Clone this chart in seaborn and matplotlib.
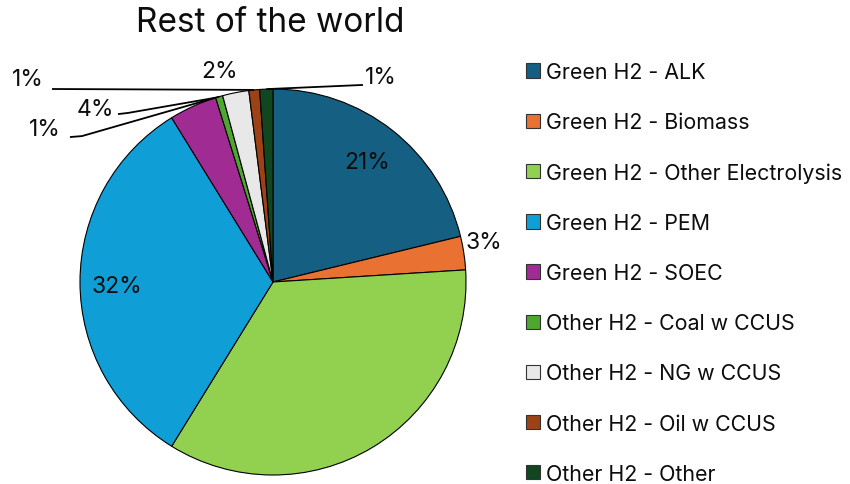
import numpy as np
import matplotlib
matplotlib.use("Agg")
import matplotlib.pyplot as plt
from matplotlib.patches import Patch
import seaborn as sns

sns.set_theme(style="white")
plt.rcParams["font.family"] = ["Inter", "DejaVu Sans"]

# Hydrogen production mix (share of total, %)
categories = [
    "Green H2 - ALK",
    "Green H2 - Biomass",
    "Green H2 - Other Electrolysis",
    "Green H2 - PEM",
    "Green H2 - SOEC",
    "Other H2 - Coal w CCUS",
    "Other H2 - NG w CCUS",
    "Other H2 - Oil w CCUS",
    "Other H2 - Other",
]
shares = [21.2, 2.8, 34.8, 32.4, 4.0, 0.6, 2.2, 0.9, 1.1]
colors = ["#156082", "#E97132", "#92D050", "#0F9ED5", "#A02B93",
          "#4EA72E", "#E8E8E8", "#9C4216", "#12461E"]
show_label = [True, True, False, True, True, True, True, True, True]

# label placement (data units, pie radius = 1) and optional leader bends
label_pos = [(0.487, 0.622), (1.093, 0.207), None, (-0.808, -0.021),
             (-0.922, 0.896), (-1.181, 0.793), (-0.275, 1.093),
             (-1.269, 1.052), (0.560, 1.062)]
leader_bend = [None, None, None, None,
               [(-0.751, 0.876), (-0.803, 0.870)],
               [(-0.990, 0.756), (-1.052, 0.751)],
               None,
               [(-1.145, 1.000)],
               [(0.466, 1.021)]]

text_color = "#0d0d0d"

fig = plt.figure(figsize=(8.5, 4.85), dpi=100)
ax = fig.add_axes([80 / 850, 9 / 485, 386 / 850, 386 / 485])

wedges, _ = ax.pie(shares, colors=colors, startangle=90, counterclock=False,
                   radius=1.0,
                   wedgeprops=dict(edgecolor="black", linewidth=0.8))
ax.set_xlim(-1, 1)
ax.set_ylim(-1, 1)
ax.set_aspect("equal")
ax.axis("off")

total = sum(shares)
for i, (w, v) in enumerate(zip(wedges, shares)):
    if not show_label[i]:
        continue
    txt = f"{round(v / total * 100):.0f}%"
    lx, ly = label_pos[i]
    ax.text(lx, ly, txt, ha="center", va="center", fontsize=16.5,
            color=text_color, clip_on=False)
    if leader_bend[i] is not None:
        # anchor on the wedge rim: slice midpoint, or its trailing edge for SOEC
        if i == 4:
            ang = np.deg2rad(w.theta1)
        else:
            ang = np.deg2rad((w.theta1 + w.theta2) / 2)
        pts = [(np.cos(ang), np.sin(ang))] + leader_bend[i]
        xs, ys = zip(*pts)
        ax.plot(xs, ys, color="black", linewidth=1.3, clip_on=False,
                solid_capstyle="butt")

fig.text(270 / 850, 1 - 23 / 485, "Rest of the world", ha="center",
         va="center", fontsize=24, color=text_color)

handles = [Patch(facecolor=c, edgecolor="#333333", linewidth=0.8) for c in colors]
fig.legend(handles, categories, loc="upper left",
           bbox_to_anchor=(526 / 850, 1 - 63 / 485), frameon=False,
           fontsize=15.4, labelcolor=text_color,
           handlelength=0.65, handleheight=0.65,
           handletextpad=0.3, labelspacing=1.41, borderpad=0,
           borderaxespad=0)

fig.savefig("out.png", dpi=100, facecolor="white")
